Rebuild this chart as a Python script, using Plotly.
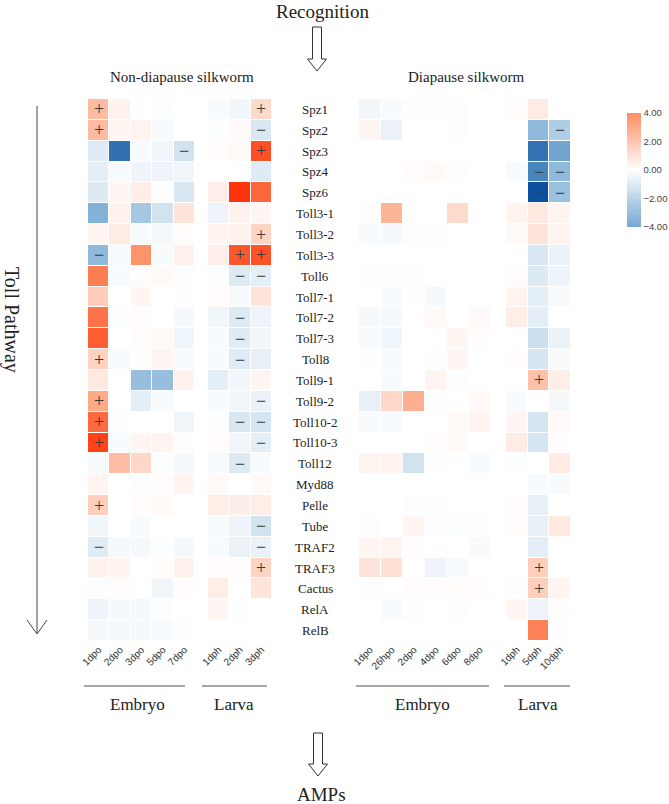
import plotly.graph_objects as go

#______________ Data ______________

genes = ["Spz1", "Spz2", "Spz3", "Spz4", "Spz6", "Toll3-1", "Toll3-2", "Toll3-3",
         "Toll6", "Toll7-1", "Toll7-2", "Toll7-3", "Toll8", "Toll9-1", "Toll9-2",
         "Toll10-2", "Toll10-3", "Toll12", "Myd88", "Pelle", "Tube", "TRAF2",
         "TRAF3", "Cactus", "RelA", "RelB"]

nd_embryo_cols = ["1dpo", "2dpo", "3dpo", "5dpo", "7dpo"]
nd_larva_cols = ["1dph", "2dph", "3dph"]
d_embryo_cols = ["1dpo", "26hpo", "2dpo", "4dpo", "6dpo", "8dpo"]
d_larva_cols = ["1dph", "5dph", "10dph"]

nd_embryo_z = [
    [2.4, 0.5, 0.0, -0.1, 0.0],
    [2.4, 0.3, 0.4, -0.2, 0.0],
    [-0.9, -6.5, -0.2, -0.4, -1.3],
    [-0.8, -0.2, -0.5, -0.5, -0.4],
    [-1.0, 0.3, 0.6, -0.1, -1.1],
    [-3.6, 0.5, -2.6, -1.3, 0.9],
    [0.4, 0.7, -0.2, -0.3, 0.1],
    [-3.2, -0.2, 3.8, -0.2, 0.5],
    [4.6, -0.2, 0.1, 0.2, -0.1],
    [1.8, 0.0, 0.3, 0.0, -0.1],
    [5.0, -0.1, 0.1, 0.0, -0.3],
    [6.0, 0.0, 0.1, 0.2, -0.4],
    [1.6, -0.2, 0.1, 0.3, -0.2],
    [0.8, 0.0, -3.0, -3.0, 0.5],
    [3.0, 0.0, -0.8, -0.2, 0.0],
    [5.4, -0.1, 0.0, 0.0, -0.4],
    [7.0, -0.2, 0.3, 0.4, -0.1],
    [-0.2, 2.3, 1.4, -0.1, -0.3],
    [0.4, 0.0, -0.1, 0.1, 0.4],
    [1.7, 0.0, 0.1, 0.2, 0.0],
    [-0.4, 0.0, -0.2, 0.0, 0.0],
    [-0.9, -0.3, -0.3, -0.1, -0.3],
    [0.5, 0.4, 0.0, 0.1, 0.5],
    [-0.1, 0.1, 0.0, -0.4, 0.1],
    [-0.5, -0.3, -0.3, -0.1, 0.0],
    [-0.3, -0.3, -0.3, -0.2, -0.1],
]

nd_larva_z = [
    [-0.2, -0.4, 1.3],
    [-0.1, 0.2, -1.1],
    [0.1, 0.2, 6.5],
    [0.0, 0.0, -0.9],
    [0.6, 7.6, 5.6],
    [-0.5, 0.5, 0.3],
    [0.4, 0.5, 1.5],
    [0.6, 6.2, 6.4],
    [-0.1, -1.0, -0.8],
    [0.1, -0.2, 1.0],
    [-0.4, -1.0, -0.5],
    [-0.2, -0.9, -0.4],
    [-0.2, -0.9, -0.7],
    [-0.8, -0.4, 0.3],
    [-0.2, -0.4, -0.6],
    [-0.1, -1.1, -1.2],
    [0.1, -0.4, -0.8],
    [-0.2, -1.0, -0.2],
    [0.2, 0.0, 0.2],
    [0.6, 0.6, 0.6],
    [-0.2, -0.5, -1.3],
    [-0.2, -0.6, -0.6],
    [0.1, 0.1, 1.5],
    [0.6, 0.0, 0.9],
    [0.3, -0.1, 0.0],
    [0.0, 0.0, 0.0],
]

d_embryo_z = [
    [-0.4, -0.2, -0.1, -0.1, -0.1, 0.0],
    [0.3, -0.6, 0.0, 0.0, -0.1, 0.0],
    [0.0, 0.0, 0.0, 0.0, 0.0, 0.0],
    [0.0, 0.0, 0.1, 0.2, -0.1, 0.0],
    [0.0, 0.0, 0.0, 0.0, 0.0, 0.0],
    [0.1, 2.6, 0.0, 0.0, 1.3, 0.0],
    [-0.2, -0.3, -0.1, -0.1, 0.0, 0.0],
    [0.0, 0.0, 0.0, 0.0, 0.0, 0.0],
    [-0.1, -0.1, 0.1, 0.0, 0.0, 0.0],
    [0.0, -0.2, -0.1, -0.3, 0.0, 0.0],
    [-0.3, -0.3, 0.0, 0.2, 0.0, 0.2],
    [-0.2, -0.4, 0.0, 0.0, 0.3, 0.1],
    [-0.1, -0.2, 0.0, -0.1, 0.3, 0.0],
    [0.0, -0.2, 0.0, 0.4, -0.1, 0.0],
    [-0.7, 1.4, 2.8, -0.1, 0.0, 0.2],
    [-0.2, -0.2, 0.0, 0.0, 0.2, 0.4],
    [0.0, 0.0, 0.0, 0.1, 0.2, 0.0],
    [0.4, 0.4, -1.3, -0.1, 0.0, -0.2],
    [0.0, 0.0, 0.0, 0.0, 0.0, 0.0],
    [0.0, 0.0, -0.1, -0.1, 0.0, 0.0],
    [-0.1, 0.0, 0.3, -0.1, -0.1, -0.1],
    [0.3, 0.4, 0.1, 0.0, 0.0, -0.2],
    [0.9, 1.1, 0.0, -0.5, -0.2, 0.0],
    [-0.1, 0.0, 0.1, 0.1, 0.1, 0.1],
    [0.0, -0.2, 0.1, 0.0, -0.1, 0.0],
    [0.0, 0.0, 0.0, 0.0, 0.0, 0.0],
]

d_larva_z = [
    [0.1, 0.7, 0.0],
    [0.0, -3.2, -2.3],
    [0.0, -6.4, -4.2],
    [-0.2, -5.6, -3.2],
    [0.0, -7.9, -2.9],
    [0.4, 0.8, 0.4],
    [0.2, 1.0, 0.4],
    [0.0, -1.1, -0.6],
    [0.1, -1.0, -0.5],
    [0.4, -0.8, -0.2],
    [0.6, -0.8, 0.0],
    [0.0, -1.5, -0.6],
    [0.1, -1.2, -0.2],
    [0.0, 2.2, 0.6],
    [-0.2, 0.0, -0.3],
    [0.3, -1.2, 0.2],
    [0.7, -1.2, 0.1],
    [-0.1, 0.0, 0.7],
    [0.0, -0.2, -0.2],
    [0.1, -0.7, 0.0],
    [0.1, -0.7, 0.8],
    [0.0, -0.8, 0.0],
    [0.0, 1.7, 0.0],
    [-0.1, 1.7, 0.4],
    [0.3, -0.5, 0.1],
    [0.0, 4.5, -0.1],
]

# significance marks (gene, column, sign)
nd_embryo_marks = [("Spz1", "1dpo", "+"), ("Spz2", "1dpo", "+"), ("Spz3", "7dpo", "−"),
                   ("Toll3-3", "1dpo", "−"), ("Toll8", "1dpo", "+"), ("Toll9-2", "1dpo", "+"),
                   ("Toll10-2", "1dpo", "+"), ("Toll10-3", "1dpo", "+"), ("Pelle", "1dpo", "+"),
                   ("TRAF2", "1dpo", "−")]
nd_larva_marks = [("Spz1", "3dph", "+"), ("Spz2", "3dph", "−"), ("Spz3", "3dph", "+"),
                  ("Toll3-2", "3dph", "+"), ("Toll3-3", "2dph", "+"), ("Toll3-3", "3dph", "+"),
                  ("Toll6", "2dph", "−"), ("Toll6", "3dph", "−"), ("Toll7-2", "2dph", "−"),
                  ("Toll7-3", "2dph", "−"), ("Toll8", "2dph", "−"), ("Toll9-2", "3dph", "−"),
                  ("Toll10-2", "2dph", "−"), ("Toll10-2", "3dph", "−"), ("Toll10-3", "3dph", "−"),
                  ("Toll12", "2dph", "−"), ("Tube", "3dph", "−"), ("TRAF2", "3dph", "−"),
                  ("TRAF3", "3dph", "+")]
d_embryo_marks = []
d_larva_marks = [("Spz2", "10dph", "−"), ("Spz4", "5dph", "−"), ("Spz4", "10dph", "−"),
                 ("Spz6", "5dph", "−"), ("Spz6", "10dph", "−"), ("Toll9-1", "5dph", "+"),
                 ("TRAF3", "5dph", "+"), ("Cactus", "5dph", "+")]

colorbar_ticks = [-4, -2, 0, 2, 4]

#______________ Setup ______________

W, H = 669, 804
SERIF = "Liberation Serif, Times New Roman, serif"
SANS = "Liberation Sans, Arial, sans-serif"


def px(x):
    return x / W


def py(y):
    return 1 - y / H


def mark_grid(cols, marks):
    grid = [["" for _ in cols] for _ in genes]
    for gene, col, sign in marks:
        grid[genes.index(gene)][cols.index(col)] = sign
    return grid


panels = [
    ("x", nd_embryo_cols, nd_embryo_z, nd_embryo_marks, (88, 195)),
    ("x2", nd_larva_cols, nd_larva_z, nd_larva_marks, (208, 272)),
    ("x3", d_embryo_cols, d_embryo_z, d_embryo_marks, (359, 491)),
    ("x4", d_larva_cols, d_larva_z, d_larva_marks, (506, 571)),
]

fig = go.Figure()

for axis, cols, z, marks, _ in panels:
    fig.add_trace(go.Heatmap(
        z=z, x=cols, y=genes,
        text=mark_grid(cols, marks),
        texttemplate="%{text}",
        textfont=dict(family=SERIF, size=18, color="#3a3a3a"),
        coloraxis="coloraxis",
        xgap=1, ygap=1,
        xaxis=axis, yaxis="y",
        hoverinfo="skip",
    ))

# invisible trace only to carry the -4..4 colour bar
fig.add_trace(go.Scatter(
    x=[nd_embryo_cols[0]], y=[genes[0]], mode="markers",
    marker=dict(color=[0], coloraxis="coloraxis2", size=1, opacity=0),
    xaxis="x", yaxis="y", showlegend=False, hoverinfo="skip",
))

axis_style = dict(
    anchor="y", tickangle=-45, ticks="", showgrid=False, zeroline=False,
    showline=False, tickfont=dict(family=SANS, size=10, color="#333"),
)
layout_axes = {}
for axis, cols, z, marks, (x0, x1) in panels:
    name = "xaxis" if axis == "x" else "xaxis" + axis[1:]
    layout_axes[name] = dict(domain=[px(x0), px(x1)], range=[-0.5, len(cols) - 0.5],
                             autorange=False, **axis_style)


def label(txt, x, y, size, **kw):
    return dict(text=txt, x=px(x), y=py(y), xref="paper", yref="paper",
                xanchor="center", yanchor="middle", showarrow=False,
                font=dict(family=SERIF, size=size, color="#222"), **kw)


# row labels, placed on the shared gene axis
annotations = [dict(text=g, x=px(315), xref="paper", y=g, yref="y", showarrow=False,
                    xanchor="center", yanchor="middle",
                    font=dict(family=SERIF, size=13, color="#222")) for g in genes]

annotations += [
    label("Recognition", 322, 11, 19),
    label("Non-diapause silkworm", 182, 77, 15),
    label("Diapause silkworm", 466, 77, 15),
    label("Embryo", 137, 704, 17),
    label("Larva", 234, 704, 17),
    label("Embryo", 422, 704, 17),
    label("Larva", 538, 704, 17),
    label("AMPs", 321, 794, 19),
    label("Toll Pathway", 12, 320, 20, textangle=90),
]

# shapes: group underlines, side arrow, hollow arrows
shapes = []
for x0, x1 in [(84, 185), (202, 267), (356, 489), (504, 570)]:
    shapes.append(dict(type="line", xref="paper", yref="paper", x0=px(x0), x1=px(x1),
                       y0=py(686), y1=py(686), line=dict(color="#8a8a8a", width=1.5)))
shapes.append(dict(type="line", xref="paper", yref="paper", x0=px(37), x1=px(37),
                   y0=py(106), y1=py(634), line=dict(color="#444", width=1)))
shapes.append(dict(type="path", xref="paper", yref="paper",
                   path=f"M {px(27)} {py(620)} L {px(37)} {py(634)} L {px(47)} {py(620)}",
                   line=dict(color="#444", width=1)))


def hollow_arrow(cx, y0, y1):
    yh = y1 - 12
    pts = [(cx - 4.5, y0), (cx + 4.5, y0), (cx + 4.5, yh), (cx + 9.5, yh), (cx, y1),
           (cx - 9.5, yh), (cx - 4.5, yh)]
    path = "M " + " L ".join(f"{px(a)} {py(b)}" for a, b in pts) + " Z"
    return dict(type="path", xref="paper", yref="paper", path=path,
                line=dict(color="#333", width=1), fillcolor="white")


shapes.append(hollow_arrow(317, 27, 71))
shapes.append(hollow_arrow(318, 733, 776))

fig.update_layout(
    width=W, height=H,
    margin=dict(l=0, r=0, t=0, b=0, autoexpand=False),
    plot_bgcolor="white", paper_bgcolor="white",
    showlegend=False,
    yaxis=dict(domain=[py(641), py(99)], anchor="x", range=[len(genes) - 0.5, -0.5],
               autorange=False, showticklabels=False, ticks="", showgrid=False,
               zeroline=False),
    coloraxis=dict(cmin=-8, cmax=8, showscale=False,
                   colorscale=[[0, "#084f9e"], [0.25, "#74a9d2"], [0.5, "#ffffff"],
                               [0.75, "#fc8d62"], [1, "#ff2a00"]]),
    coloraxis2=dict(cmin=-4, cmax=4, showscale=True,
                    colorscale=[[0, "#74a9d2"], [0.5, "#ffffff"], [1, "#fc8d62"]],
                    colorbar=dict(x=px(627), xanchor="left", y=py(170), yanchor="middle",
                                  len=114, lenmode="pixels", thickness=14, outlinewidth=0,
                                  xpad=0, ypad=0, ticks="",
                                  tickvals=colorbar_ticks, tickformat=".2f",
                                  tickfont=dict(family=SANS, size=9.5, color="#444"))),
    annotations=annotations,
    shapes=shapes,
    **layout_axes,
)

# drop the default page margin so the figure sits at the window's top-left corner
fig.write_html("out.html", config={"displayModeBar": False},
               post_script="document.body.style.margin='0px';")
